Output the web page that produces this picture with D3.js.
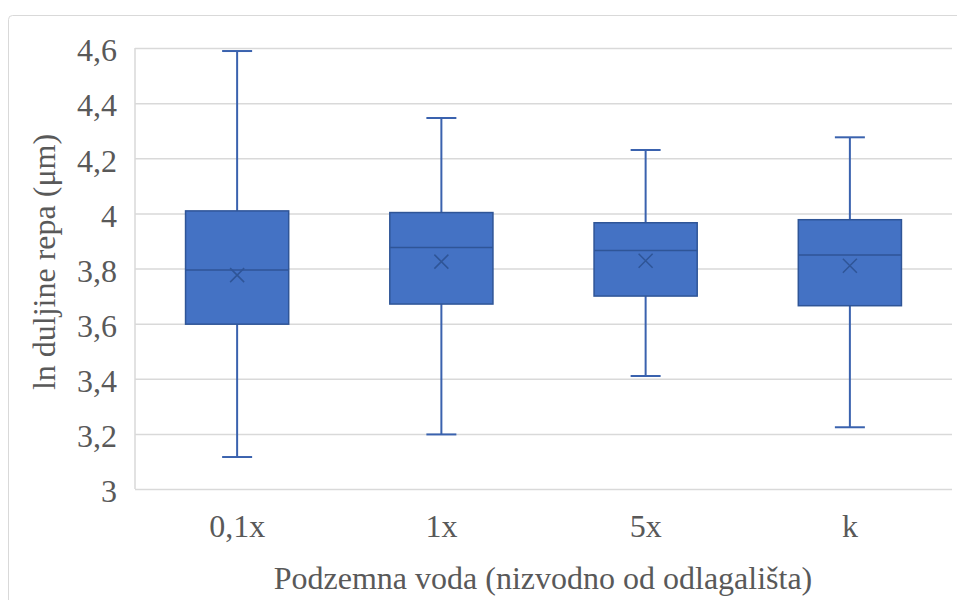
<!DOCTYPE html>
<html><head><meta charset="utf-8">
<script src="https://cdn.jsdelivr.net/npm/d3@7"></script>
</head><body style="margin:0">
<svg id="c" width="957" height="600"></svg>
<script>
const categories = ["0,1x", "1x", "5x", "k"];
const whiskerLow  = [3.116, 3.198, 3.410, 3.224];
const q1          = [3.598, 3.671, 3.700, 3.665];
const median      = [3.795, 3.876, 3.865, 3.849];
const q3          = [4.009, 4.003, 3.966, 3.977];
const whiskerHigh = [4.589, 4.346, 4.230, 4.276];
const mean        = [3.776, 3.825, 3.828, 3.810];
const yTicks = [3, 3.2, 3.4, 3.6, 3.8, 4, 4.2, 4.4, 4.6];
const yTickLabels = ["3", "3,2", "3,4", "3,6", "3,8", "4", "4,2", "4,4", "4,6"];

const svg = d3.select("#c");
const FONT = "Liberation Serif, serif";
const L = 135, R = 952, T = 48, B = 489;

svg.append("rect").attr("x", 8.5).attr("y", 15.5).attr("width", 960).attr("height", 600)
  .attr("rx", 4).attr("fill", "#fff").attr("stroke", "#D9D9D9");

const x = d3.scaleBand().domain(categories).range([L, R]).paddingInner(0).paddingOuter(0);
const y = d3.scaleLinear().domain([3, 4.6]).range([B, T]);

const yAxis = d3.axisLeft(y).tickValues(yTicks).tickSize(-(R - L)).tickPadding(18)
  .tickFormat((d, i) => yTickLabels[i]);
const gy = svg.append("g").attr("transform", `translate(${L},0)`).call(yAxis)
  .attr("font-family", FONT).attr("font-size", 32);
gy.select(".domain").remove();
gy.selectAll(".tick line").attr("stroke", "#D9D9D9").attr("stroke-width", 1.5);
gy.selectAll(".tick text").style("font-family", FONT).attr("font-size", 32)
  .attr("dy", "0.4em").attr("fill", "#595959");

svg.append("line").attr("x1", L).attr("x2", L).attr("y1", T).attr("y2", B)
  .attr("stroke", "#D9D9D9").attr("stroke-width", 1.5);

const xAxis = d3.axisBottom(x).tickSize(0).tickPadding(25);
const gx = svg.append("g").attr("transform", `translate(0,${B})`).call(xAxis)
  .attr("font-family", FONT).attr("font-size", 32);
gx.select(".domain").remove();
gx.selectAll(".tick text").style("font-family", FONT).attr("font-size", 32).attr("fill", "#595959");

const bw = x.bandwidth() * 0.505;
const capW = 30;
const stroke = "#3A62AE";
const g = svg.append("g");
categories.forEach((c, i) => {
  const cx = x(c) + x.bandwidth() / 2;
  g.append("line").attr("x1", cx).attr("x2", cx).attr("y1", y(whiskerHigh[i])).attr("y2", y(q3[i]))
    .attr("stroke", stroke).attr("stroke-width", 2);
  g.append("line").attr("x1", cx).attr("x2", cx).attr("y1", y(q1[i])).attr("y2", y(whiskerLow[i]))
    .attr("stroke", stroke).attr("stroke-width", 2);
  g.append("line").attr("x1", cx - capW / 2).attr("x2", cx + capW / 2).attr("y1", y(whiskerHigh[i])).attr("y2", y(whiskerHigh[i]))
    .attr("stroke", stroke).attr("stroke-width", 2);
  g.append("line").attr("x1", cx - capW / 2).attr("x2", cx + capW / 2).attr("y1", y(whiskerLow[i])).attr("y2", y(whiskerLow[i]))
    .attr("stroke", stroke).attr("stroke-width", 2);
  g.append("rect").attr("x", cx - bw / 2).attr("width", bw).attr("y", y(q3[i])).attr("height", y(q1[i]) - y(q3[i]))
    .attr("fill", "#4472C4").attr("stroke", "#2F5597").attr("stroke-width", 1.5);
  g.append("line").attr("x1", cx - bw / 2).attr("x2", cx + bw / 2).attr("y1", y(median[i])).attr("y2", y(median[i]))
    .attr("stroke", "#2F5597").attr("stroke-width", 1.5);
  const my = y(mean[i]), s = 7;
  g.append("path").attr("d", `M${cx - s},${my - s}L${cx + s},${my + s}M${cx - s},${my + s}L${cx + s},${my - s}`)
    .attr("stroke", "#2F5597").attr("stroke-width", 1.5).attr("fill", "none");
});

svg.append("text").attr("x", 543).attr("y", 589).attr("text-anchor", "middle")
  .style("font-family", FONT).attr("font-size", 32).attr("fill", "#595959")
  .text("Podzemna voda (nizvodno od odlagališta)");
svg.append("text").attr("transform", `translate(55,262) rotate(-90)`).attr("text-anchor", "middle")
  .style("font-family", FONT).attr("font-size", 32).attr("fill", "#595959")
  .text("ln duljine repa (μm)");
</script>
</body></html>
